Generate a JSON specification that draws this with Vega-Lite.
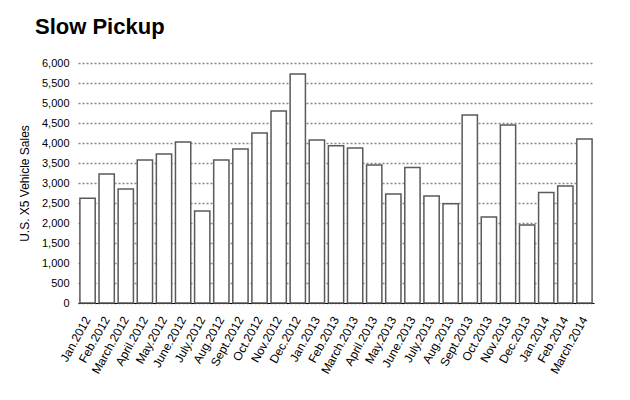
{
  "$schema": "https://vega.github.io/schema/vega-lite/v6.json",
  "autosize": "none",
  "width": 516,
  "height": 240,
  "padding": {"left": 78, "top": 63, "right": 36, "bottom": 97},
  "background": "white",
  "title": {
    "text": "Slow Pickup",
    "anchor": "start",
    "frame": "group",
    "dx": -43,
    "offset": 18,
    "font": "Liberation Sans",
    "fontSize": 22,
    "fontWeight": "bold",
    "color": "black"
  },
  "data": {
    "values": [
      {"month": "Jan.2012", "sales": 2620},
      {"month": "Feb.2012", "sales": 3225},
      {"month": "March.2012", "sales": 2850},
      {"month": "April.2012", "sales": 3575},
      {"month": "May.2012", "sales": 3725},
      {"month": "June.2012", "sales": 4025},
      {"month": "July.2012", "sales": 2300},
      {"month": "Aug.2012", "sales": 3575},
      {"month": "Sept.2012", "sales": 3850},
      {"month": "Oct.2012", "sales": 4250},
      {"month": "Nov.2012", "sales": 4800},
      {"month": "Dec.2012", "sales": 5725},
      {"month": "Jan.2013", "sales": 4075},
      {"month": "Feb.2013", "sales": 3930},
      {"month": "March.2013", "sales": 3875},
      {"month": "April.2013", "sales": 3450},
      {"month": "May.2013", "sales": 2725},
      {"month": "June.2013", "sales": 3390},
      {"month": "July.2013", "sales": 2675},
      {"month": "Aug.2013", "sales": 2480},
      {"month": "Sept.2013", "sales": 4700},
      {"month": "Oct.2013", "sales": 2150},
      {"month": "Nov.2013", "sales": 4450},
      {"month": "Dec.2013", "sales": 1950},
      {"month": "Jan.2014", "sales": 2760},
      {"month": "Feb.2014", "sales": 2925},
      {"month": "March.2014", "sales": 4100}
    ]
  },
  "mark": {"type": "bar", "fill": "white", "stroke": "#5a5a5a", "strokeWidth": 1.5},
  "encoding": {
    "x": {
      "field": "month",
      "type": "nominal",
      "sort": null,
      "scale": {"paddingInner": 0.2, "paddingOuter": 0.1},
      "axis": {
        "title": null,
        "labelAngle": -61,
        "labelFont": "Liberation Sans",
        "labelFontSize": 12,
        "labelColor": "black",
        "ticks": false,
        "domainColor": "black",
        "domainWidth": 1,
        "labelPadding": 14
      }
    },
    "y": {
      "field": "sales",
      "type": "quantitative",
      "scale": {"domain": [0, 6000]},
      "axis": {
        "title": "U.S. X5 Vehicle Sales",
        "titleFont": "Liberation Sans",
        "titleFontSize": 12,
        "titleFontWeight": "normal",
        "titleColor": "black",
        "titlePadding": 10,
        "values": [0, 500, 1000, 1500, 2000, 2500, 3000, 3500, 4000, 4500, 5000, 5500, 6000],
        "format": ",.0f",
        "labelFont": "Liberation Sans",
        "labelFontSize": 11,
        "labelColor": "black",
        "labelPadding": 9,
        "ticks": false,
        "domain": false,
        "grid": true,
        "gridColor": "#888888",
        "gridDash": [2, 2],
        "gridWidth": 1.5
      }
    }
  },
  "config": {"view": {"stroke": null}}
}
